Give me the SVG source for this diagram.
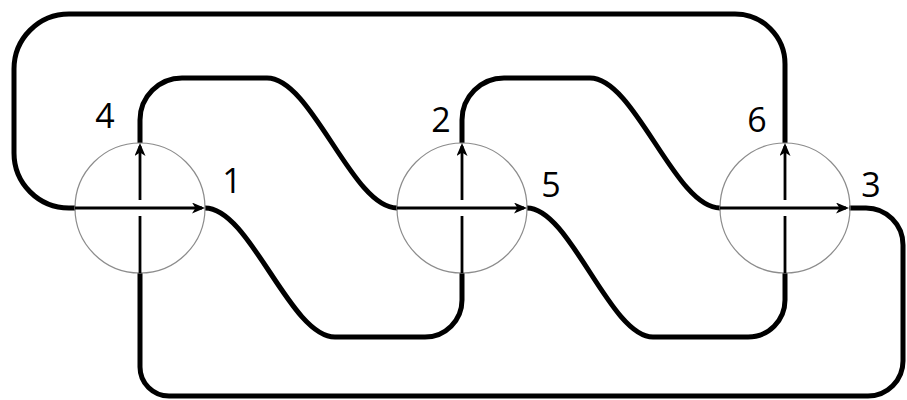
<svg xmlns="http://www.w3.org/2000/svg" width="907" height="400" viewBox="0 0 907 400">
<style>
.ring{fill:none;stroke:#8c8c8c;stroke-width:1.2}
.arr{fill:none;stroke:#000;stroke-width:2.8;marker-end:url(#ah)}
.seg{fill:none;stroke:#000;stroke-width:2.8}
.strand{fill:none;stroke:#000;stroke-width:5;stroke-linecap:butt;stroke-linejoin:round}
.lbl{font-family:"Open Sans","Noto Sans",sans-serif;font-size:34px;fill:#000;text-anchor:middle}
</style>
<defs>
<marker id="ah" viewBox="0 0 13 11" refX="10" refY="5.5" markerWidth="13" markerHeight="11" markerUnits="userSpaceOnUse" orient="auto">
<path d="M0,0 L13,5.5 L0,11 L3.5,5.5 Z" fill="#000"/>
</marker>
</defs>
<rect width="907" height="400" fill="#fff"/>
<g id="connectors">
<path class="strand" d="M75,208 L69,208 A55 55 0 0 1 14,153 L14,69 A55 55 0 0 1 69,14 L735,14 A50 50 0 0 1 785,64 L785,143"/>
<path class="strand" d="M140,143 L140,120 A42 42 0 0 1 182,78 L267,78 C312,78 352,208 397,208"/>
<path class="strand" d="M462,143 L462,120 A42 42 0 0 1 504,78 L590,78 C635,78 675,208 720,208"/>
<path class="strand" d="M205,208 C250,208 290,337 335,337 L425,337 A37 37 0 0 0 462,300 L462,273"/>
<path class="strand" d="M527,208 C570,208 610,337 653,337 L748,337 A37 37 0 0 0 785,300 L785,273"/>
<path class="strand" d="M140,273 L140,367 A29 29 0 0 0 169,396 L868,396 A35 35 0 0 0 903,361 L903,245 A37 37 0 0 0 866,208 L849,208"/>
</g>
<g id="node1">
<circle class="ring" cx="140" cy="208" r="65"/>
<line class="arr" x1="75" y1="208" x2="202" y2="208"/>
<line class="seg" x1="140" y1="273" x2="140" y2="216"/>
<line class="arr" x1="140" y1="200" x2="140" y2="146"/>
<text class="lbl" x="105" y="128">4</text>
<text class="lbl" x="232" y="193">1</text>
</g>
<g id="node2">
<circle class="ring" cx="462" cy="208" r="65"/>
<line class="arr" x1="397" y1="208" x2="524" y2="208"/>
<line class="seg" x1="462" y1="273" x2="462" y2="216"/>
<line class="arr" x1="462" y1="200" x2="462" y2="146"/>
<text class="lbl" x="441" y="132">2</text>
<text class="lbl" x="551" y="197">5</text>
</g>
<g id="node3">
<circle class="ring" cx="785" cy="208" r="65"/>
<line class="arr" x1="720" y1="208" x2="846" y2="208"/>
<line class="seg" x1="785" y1="273" x2="785" y2="216"/>
<line class="arr" x1="785" y1="200" x2="785" y2="146"/>
<text class="lbl" x="757" y="132">6</text>
<text class="lbl" x="871" y="197">3</text>
</g>
</svg>
